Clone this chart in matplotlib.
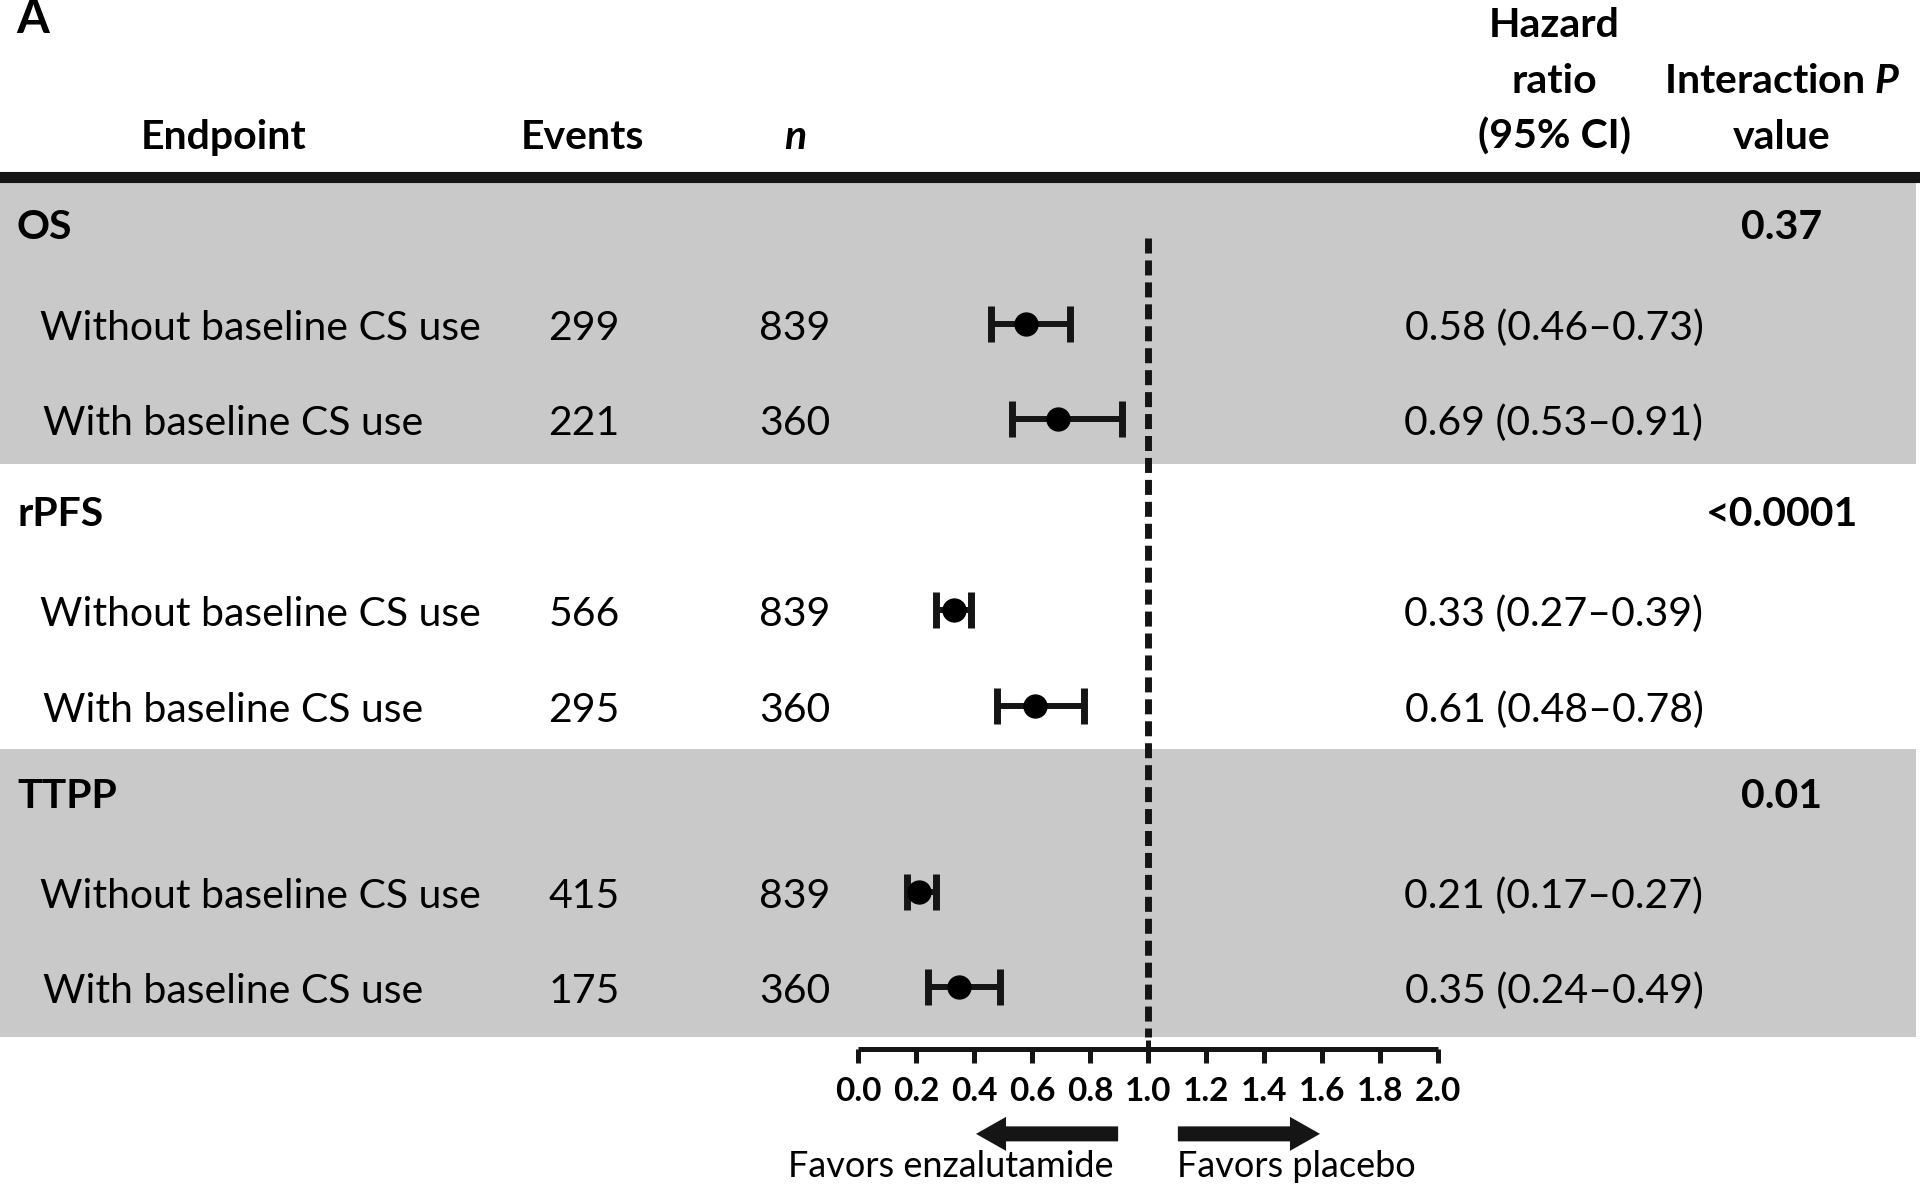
import numpy as np
import matplotlib.pyplot as plt
from matplotlib.transforms import blended_transform_factory

plt.rcParams['font.family'] = ['Lato', 'DejaVu Sans']
plt.rcParams['mathtext.fontset'] = 'custom'
plt.rcParams['mathtext.it'] = 'Lato:italic:bold'
plt.rcParams['lines.scale_dashes'] = False

# data
endpoints = ['OS', 'rPFS', 'TTPP']
p_values = ['0.37', '<0.0001', '0.01']
subgroups = ['Without baseline CS use', 'With baseline CS use']
events = [299, 221, 566, 295, 415, 175]
n_pts = [839, 360, 839, 360, 839, 360]
hr = np.array([0.58, 0.69, 0.33, 0.61, 0.21, 0.35])
hr_lo = np.array([0.46, 0.53, 0.27, 0.48, 0.17, 0.24])
hr_hi = np.array([0.73, 0.91, 0.39, 0.78, 0.27, 0.49])
ticks = np.round(np.arange(0, 2.01, 0.2), 1)

# vertical slot of each table line (heading, sub, sub) x 3
ROW_Y = [0, 1.05, 2.04, 3.01, 4.05, 5.05, 5.97, 7.0, 8.0]

GRAY = '#c9c9c9'
INK = '#151515'
FS = 29.5
FS_TICK = 24
FS_FAV = 26

W, H = 1920, 1186
fig = plt.figure(figsize=(W / 100, H / 100), dpi=100)
ax = fig.add_axes([0, 0, 1, 1])
ax.axis('off')

# x in hazard-ratio units, y in table rows (row 0 = OS heading)
X0_PX, PX_PER_HR = 858, 290
Y0_PX, PX_PER_ROW = 224, 95.375
ax.set_xlim(-X0_PX / PX_PER_HR, (W - X0_PX) / PX_PER_HR)
ax.set_ylim((H - Y0_PX) / PX_PER_ROW, -Y0_PX / PX_PER_ROW)

col = blended_transform_factory(ax.transAxes, ax.transData)


def cx(px):
    return px / W


# header
ax.text(cx(16), -2.003, 'A', fontsize=34, fontweight='bold', va='baseline', transform=col)
ax.text(cx(224), -0.786, 'Endpoint', fontsize=FS, fontweight='bold', ha='center', va='baseline', transform=col)
ax.text(cx(583), -0.786, 'Events', fontsize=FS, fontweight='bold', ha='center', va='baseline', transform=col)
ax.text(cx(795), -0.786, 'n', fontsize=FS, fontweight='bold', fontstyle='italic', ha='center', va='baseline', transform=col)
for y, s in zip([-1.961, -1.374, -0.786], ['Hazard', 'ratio', '(95% CI)']):
    ax.text(cx(1554), y, s, fontsize=FS, fontweight='bold', ha='center', va='baseline', transform=col)
ax.text(cx(1782), -1.374, 'Interaction $P$', fontsize=FS, fontweight='bold', ha='center', va='baseline', transform=col)
ax.text(cx(1782), -0.786, 'value', fontsize=FS, fontweight='bold', ha='center', va='baseline', transform=col)

ax.axhline(-0.49, xmin=0, xmax=1916 / W, color=INK, lw=8, zorder=3)

rows = []
for i, (name, p) in enumerate(zip(endpoints, p_values)):
    r = ROW_Y[3 * i]
    if i % 2 == 0:
        ax.axhspan(3 * i - 0.5, 3 * i + 2.52, xmin=0, xmax=1916 / W, color=GRAY, lw=0, zorder=0)
    ax.text(cx(17), r + 0.157, name, fontsize=FS, fontweight='bold', va='baseline', transform=col)
    ax.text(cx(1782), r + 0.157, p, fontsize=FS, fontweight='bold', ha='center', va='baseline', transform=col)
    for j, label in enumerate(subgroups):
        k = 2 * i + j
        rr = ROW_Y[3 * i + 1 + j]
        rows.append(rr)
        ax.text(cx(40 + 3 * j), rr + 0.168, label, fontsize=FS, va='baseline', transform=col)
        ax.text(cx(584), rr + 0.168, str(events[k]), fontsize=FS, ha='center', va='baseline', transform=col)
        ax.text(cx(795), rr + 0.168, str(n_pts[k]), fontsize=FS, ha='center', va='baseline', transform=col)
        ax.text(cx(1554), rr + 0.168, f'{hr[k]:.2f} ({hr_lo[k]:.2f}\u2013{hr_hi[k]:.2f})',
                fontsize=FS, ha='center', va='baseline', transform=col)

rows = np.array(rows)

# reference line at HR = 1
ax.plot([1, 1], [0.15, 8.52], color=INK, lw=5, dashes=(10.8, 5), dash_capstyle='butt', zorder=2)

# forest points
ax.errorbar(hr, rows, xerr=[hr - hr_lo, hr_hi - hr], fmt='o', color='black', ecolor=INK,
            elinewidth=4.3, capsize=13, capthick=5, markersize=16.5, zorder=4)

# hazard ratio axis
ya = (1049 - Y0_PX) / PX_PER_ROW
ax.plot([ticks[0], ticks[-1]], [ya, ya], color=INK, lw=3.6, solid_capstyle='butt')
ax.vlines(ticks, ya, ya + 0.147, color=INK, lw=3.6)
ax.vlines(1.0, ya - 0.09, ya, color=INK, lw=3.6)
for t in ticks:
    ax.text(t, 9.2, f'{t:.1f}', fontsize=FS_TICK, fontweight='bold', ha='center', va='baseline')

# direction arrows
arrow_kw = dict(width=10.8, headwidth=24.5, headlength=21.6, facecolor=INK, edgecolor='none', shrink=0)
ax.annotate('', xy=(0.407, 9.54), xytext=(0.897, 9.54), arrowprops=arrow_kw)
ax.annotate('', xy=(1.593, 9.54), xytext=(1.103, 9.54), arrowprops=arrow_kw)
ax.text(cx(951), 9.99, 'Favors enzalutamide', fontsize=FS_FAV, ha='center', va='baseline', transform=col)
ax.text(cx(1296), 9.99, 'Favors placebo', fontsize=FS_FAV, ha='center', va='baseline', transform=col)

fig.savefig('out.png', dpi=100)
